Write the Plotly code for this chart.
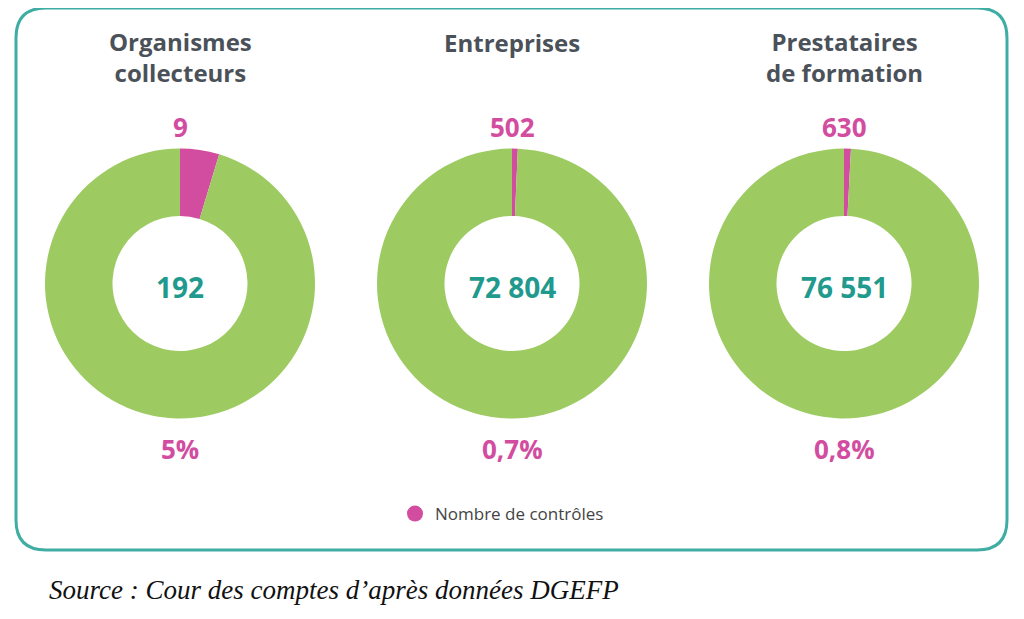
import plotly.graph_objects as go

# ---- data ----
categories = ["Organismes<br>collecteurs", "Entreprises", "Prestataires<br>de formation"]
controls = [9, 502, 630]
totals = [192, 72804, 76551]
pct_labels = ["5%", "0,7%", "0,8%"]
slice_labels = ["Nombre de contrôles", "Sans contrôle"]

OFF = 8  # page body margin of the html page
W, H = 1024 - OFF, 619 - OFF
GREEN = "#9dcb62"
PINK = "#d24d9f"
TEAL = "#1f9a8d"
GRAY = "#4b5159"
BORDER = "#3fada3"

centers_x = [180, 512, 844]
center_y = 283.5
R = 135


def px(x):
    return (x - OFF) / W


def py(y):
    return 1 - (y - OFF) / H


def fmt(n):
    return f"{n:,}".replace(",", " ")


def note(x, y, text, size, color, family="Open Sans", xanchor="center"):
    fig.add_annotation(x=px(x), y=py(y), xref="paper", yref="paper",
                       xanchor=xanchor, yanchor="middle", text=text, showarrow=False,
                       font=dict(family=family, size=size, color=color))


fig = go.Figure()

for i, cat in enumerate(categories):
    cx = centers_x[i]
    fig.add_trace(go.Pie(
        labels=slice_labels,
        values=[controls[i], totals[i] - controls[i]],
        hole=0.5,
        sort=False,
        direction="clockwise",
        rotation=0,
        textinfo="none",
        hoverinfo="label+value",
        marker=dict(colors=[PINK, GREEN], line=dict(width=0)),
        showlegend=False,
        domain=dict(x=[px(cx - R), px(cx + R)], y=[py(center_y + R), py(center_y - R)]),
    ))
    note(cx, 57 if "<br>" in cat else 42, f"<b>{cat}</b>", 24, GRAY)
    note(cx, 127, f"<b>{fmt(controls[i])}</b>", 26, PINK)
    note(cx, 287, f"<b>{fmt(totals[i])}</b>", 28, TEAL)
    note(cx, 449, f"<b>{pct_labels[i]}</b>", 26, PINK)

# legend entry
fig.add_trace(go.Scatter(x=[None], y=[None], mode="markers", name=slice_labels[0],
                         marker=dict(size=22, color=PINK, symbol="circle")))

# rounded border
x0, x1, y0, y1, r = 16, 1007, 8, 550, 30
path = (f"M {px(x0 + r)},{py(y0)} L {px(x1 - r)},{py(y0)} Q {px(x1)},{py(y0)} {px(x1)},{py(y0 + r)} "
        f"L {px(x1)},{py(y1 - r)} Q {px(x1)},{py(y1)} {px(x1 - r)},{py(y1)} "
        f"L {px(x0 + r)},{py(y1)} Q {px(x0)},{py(y1)} {px(x0)},{py(y1 - r)} "
        f"L {px(x0)},{py(y0 + r)} Q {px(x0)},{py(y0)} {px(x0 + r)},{py(y0)} Z")
fig.add_shape(type="path", path=path, xref="paper", yref="paper",
              line=dict(color=BORDER, width=3))

# source
note(47, 590, "<i>Source : Cour des comptes d\u2019après données DGEFP</i>", 27, "#111111",
     family="Liberation Serif", xanchor="left")

fig.update_layout(
    width=W, height=H,
    margin=dict(l=0, r=0, t=0, b=0),
    paper_bgcolor="white", plot_bgcolor="white",
    xaxis=dict(visible=False), yaxis=dict(visible=False),
    showlegend=True,
    legend=dict(x=px(395), y=py(514), xanchor="left", yanchor="middle",
                font=dict(family="Open Sans", size=17, color="#444444"),
                bgcolor="rgba(0,0,0,0)"),
)

fig.write_html("out.html")
